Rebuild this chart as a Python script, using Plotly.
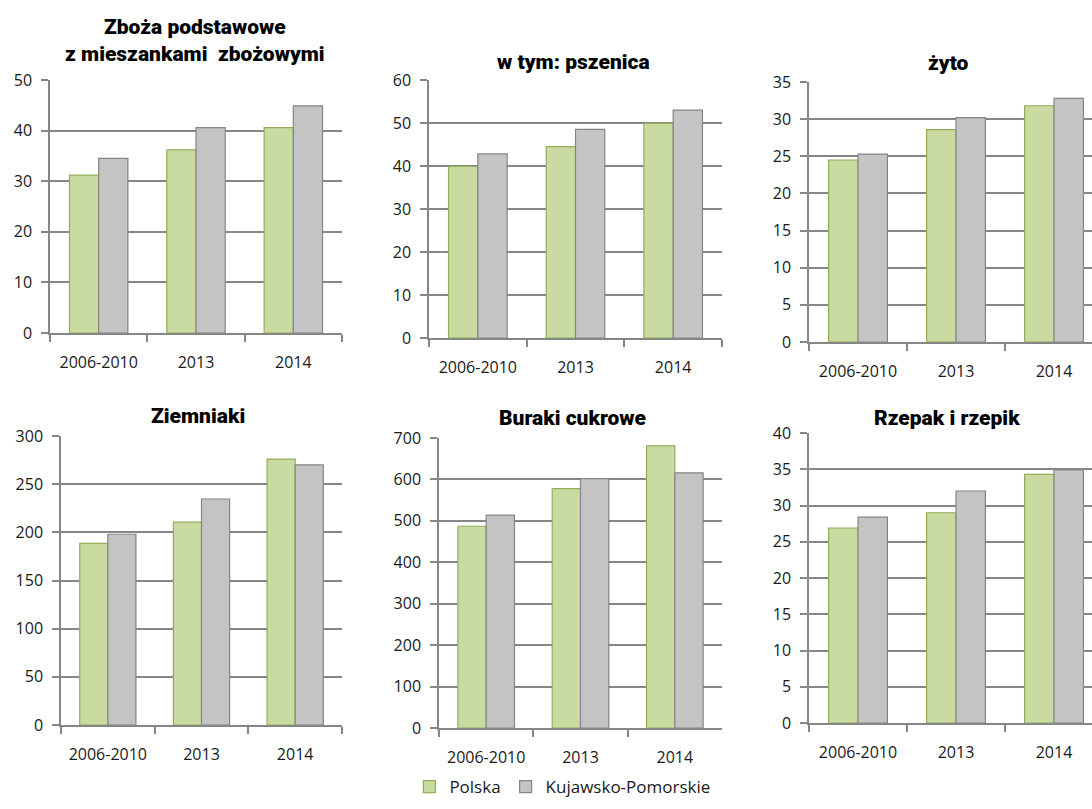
import plotly.graph_objects as go

W, H = 1092, 809

categories = ["2006-2010", "2013", "2014"]
series_names = ["Polska", "Kujawsko-Pomorskie"]

titles = [
    "Zboża podstawowe<br>z mieszankami  zbożowymi",
    "w tym: pszenica",
    "żyto",
    "Ziemniaki",
    "Buraki cukrowe",
    "Rzepak i rzepik",
]

polska = [
    [31.2, 36.2, 40.6],
    [39.9, 44.5, 49.9],
    [24.5, 28.6, 31.8],
    [188.6, 210.7, 276.0],
    [487, 578, 681],
    [26.9, 29.0, 34.3],
]
kujawsko = [
    [34.5, 40.6, 44.9],
    [42.8, 48.5, 53.0],
    [25.3, 30.2, 32.8],
    [198.0, 234.6, 270.0],
    [514, 602, 616],
    [28.4, 32.0, 34.9],
]

y_max = [50, 60, 35, 300, 700, 40]
y_step = [10, 10, 5, 50, 100, 5]

# pixel layout of each plot area: (left, right, top, bottom)
boxes = [
    (50, 342, 80, 333),
    (429, 722, 80, 338),
    (809, 1092, 82, 342),
    (61, 342, 436, 725),
    (439, 722, 438, 728),
    (809, 1092, 433, 723),
]
# visible x range (third column is clipped at the right edge)
x_ranges = [
    [-0.5, 2.5], [-0.5, 2.5], [-0.5, 2.388],
    [-0.5, 2.5], [-0.5, 2.5], [-0.5, 2.388],
]
title_pos = [(195, 40), (573, 62), (948, 63), (198, 416), (573, 418), (947, 418)]

GREEN = "#c9dba0"
GREEN_EDGE = "#94ad5a"
GRAY = "#c4c4c4"
GRAY_EDGE = "#858585"
AXIS = "#868686"
TICK_FONT = dict(family="Open Sans, Lato, Liberation Sans, sans-serif", size=16, color="#1a1a1a")
TITLE_FONT = dict(family="Roboto, Liberation Sans Narrow, Arial Narrow, sans-serif",
                  size=21, color="#000000", weight=900)

fig = go.Figure()
layout = dict(
    width=W, height=H,
    margin=dict(l=0, r=0, t=0, b=0, autoexpand=False),
    paper_bgcolor="white", plot_bgcolor="white",
    barmode="group", bargap=0.4, bargroupgap=0.0,
    showlegend=True,
    legend=dict(orientation="h", x=0.515, xanchor="center", y=1 - 787 / H, yanchor="middle",
                font=dict(family="Open Sans, Lato, sans-serif", size=17, color="#1a1a1a"),
                itemwidth=30, tracegroupgap=0, bgcolor="rgba(0,0,0,0)"),
    annotations=[],
)

for i in range(6):
    n = "" if i == 0 else str(i + 1)
    xa, ya = "x" + n, "y" + n
    fig.add_trace(go.Bar(
        x=categories, y=polska[i], name=series_names[0], xaxis=xa, yaxis=ya,
        marker=dict(color=GREEN, line=dict(color=GREEN_EDGE, width=1.2)),
        legendgroup="p", showlegend=(i == 0)))
    fig.add_trace(go.Bar(
        x=categories, y=kujawsko[i], name=series_names[1], xaxis=xa, yaxis=ya,
        marker=dict(color=GRAY, line=dict(color=GRAY_EDGE, width=1.2)),
        legendgroup="k", showlegend=(i == 0)))
    l, r, t, b = boxes[i]
    layout["xaxis" + n] = dict(
        domain=[l / W, r / W], anchor=ya, range=x_ranges[i], type="category",
        showline=True, linecolor=AXIS, linewidth=1.5,
        ticks="outside", tickson="boundaries", ticklen=7, tickcolor=AXIS, tickwidth=1.5,
        tickfont=TICK_FONT, ticklabelstandoff=14, showgrid=False, fixedrange=True)
    layout["yaxis" + n] = dict(
        domain=[1 - b / H, 1 - t / H], anchor=xa, range=[0, y_max[i]],
        tick0=0, dtick=y_step[i],
        showline=True, linecolor=AXIS, linewidth=1.5,
        showgrid=True, gridcolor=AXIS, gridwidth=1.5, zeroline=False,
        ticks="outside", ticklen=7, tickcolor=AXIS, tickwidth=1.5,
        tickfont=TICK_FONT, ticklabelstandoff=6, fixedrange=True)
    tx, ty = title_pos[i]
    layout["annotations"].append(dict(
        text=titles[i],
        x=tx / W, y=1 - ty / H, xref="paper", yref="paper",
        xanchor="center", yanchor="middle", showarrow=False, font=TITLE_FONT))

fig.update_layout(**layout)
fig.write_html("out.html", config={"displayModeBar": False},
               post_script="document.body.style.margin='0';document.body.style.overflow='hidden';")
